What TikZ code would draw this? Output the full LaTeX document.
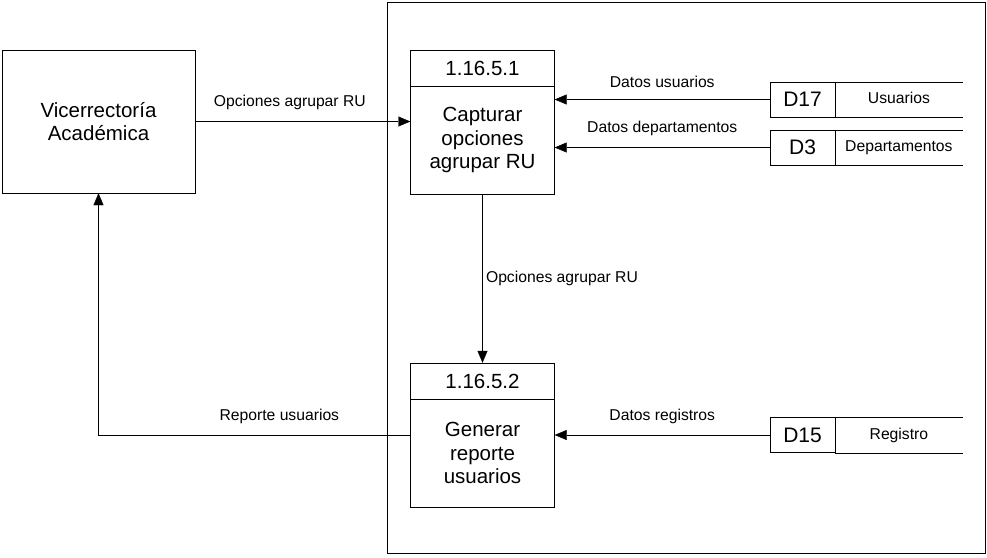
\documentclass[tikz,border=0pt]{standalone}
\usepackage{fontspec}
\setmainfont{Liberation Sans}
\usetikzlibrary{arrows.meta}

\tikzset{
  entity/.style={draw, rectangle, minimum width=193pt, minimum height=143pt, align=center, font=\fontsize{20.5}{23.5}\selectfont},
  prochead/.style={draw, rectangle, minimum width=144pt, minimum height=36pt, font=\fontsize{20.5}{23.5}\selectfont},
  procbody/.style={draw, rectangle, minimum width=144pt, minimum height=108pt, align=center, font=\fontsize{20.5}{23.5}\selectfont},
  storeid/.style={draw, rectangle, minimum width=65pt, minimum height=35pt, font=\fontsize{21}{24}\selectfont},
  storename/.style={rectangle, minimum width=127pt, minimum height=35pt, text height=11.5pt, text depth=3.3pt, font=\fontsize{15.7}{18}\selectfont},
  flow/.style={-{Triangle[length=12pt,width=10pt]}},
  flowlabel/.style={font=\fontsize{15.7}{18}\selectfont}
}

\begin{document}
\begin{tikzpicture}[x=1pt, y=-1pt]
			\useasboundingbox (0,0) rectangle (987,557);
			\draw (387,2) rectangle (985,553);

			\node[entity] (va) at (98.5,121.5) {Vicerrector\'ia\\Acad\'emica};

			\node[prochead] (p1h) at (482.5,68) {1.16.5.1};
			\node[procbody, anchor=north] (p1) at (p1h.south) {Capturar\\opciones\\agrupar RU};
			\node[prochead] (p2h) at (482.5,381) {1.16.5.2};
			\node[procbody, anchor=north] (p2) at (p2h.south) {Generar\\reporte\\usuarios};

			\node[storeid] (d17) at (802.5,99.5) {D17};
			\node[storename, anchor=west] (d17n) at (d17.east) {Usuarios};
			\node[storeid] (d3) at (802.5,147.5) {D3};
			\node[storename, anchor=west] (d3n) at (d3.east) {Departamentos};
			\node[storeid] (d15) at (802.5,435) {D15};
			\node[storename, anchor=west] (d15n) at (d15.east) {Registro};

			% open ends of the data stores
			\draw (d17n.north west) -- (d17n.north east) (d17n.south west) -- (d17n.south east);
			\draw (d3n.north west) -- (d3n.north east) (d3n.south west) -- (d3n.south east);
			\draw (d15n.north west) -- (d15n.north east) (d15n.south west) -- (d15n.south east);

			\draw[flow] (va.east) -- node[flowlabel, above=8pt, pos=0.44] {Opciones agrupar RU} (va.east -| p1.west);
			\draw[flow] (d17.west) -- node[flowlabel, above=8pt] {Datos usuarios} (d17.west -| p1.east);
			\draw[flow] (d3.west) -- node[flowlabel, above=8pt] {Datos departamentos} (d3.west -| p1.east);
			\draw[flow] (p1.south) -- node[flowlabel, right] {Opciones agrupar RU} (p2h.north);
			\draw[flow] (d15.west) -- node[flowlabel, above=8pt] {Datos registros} (d15.west -| p2.east);
			\draw[flow] (d15.west -| p2.west) -| node[flowlabel, above=8pt, pos=0.21] {Reporte usuarios} (va.south);
		\end{tikzpicture}
\end{document}
